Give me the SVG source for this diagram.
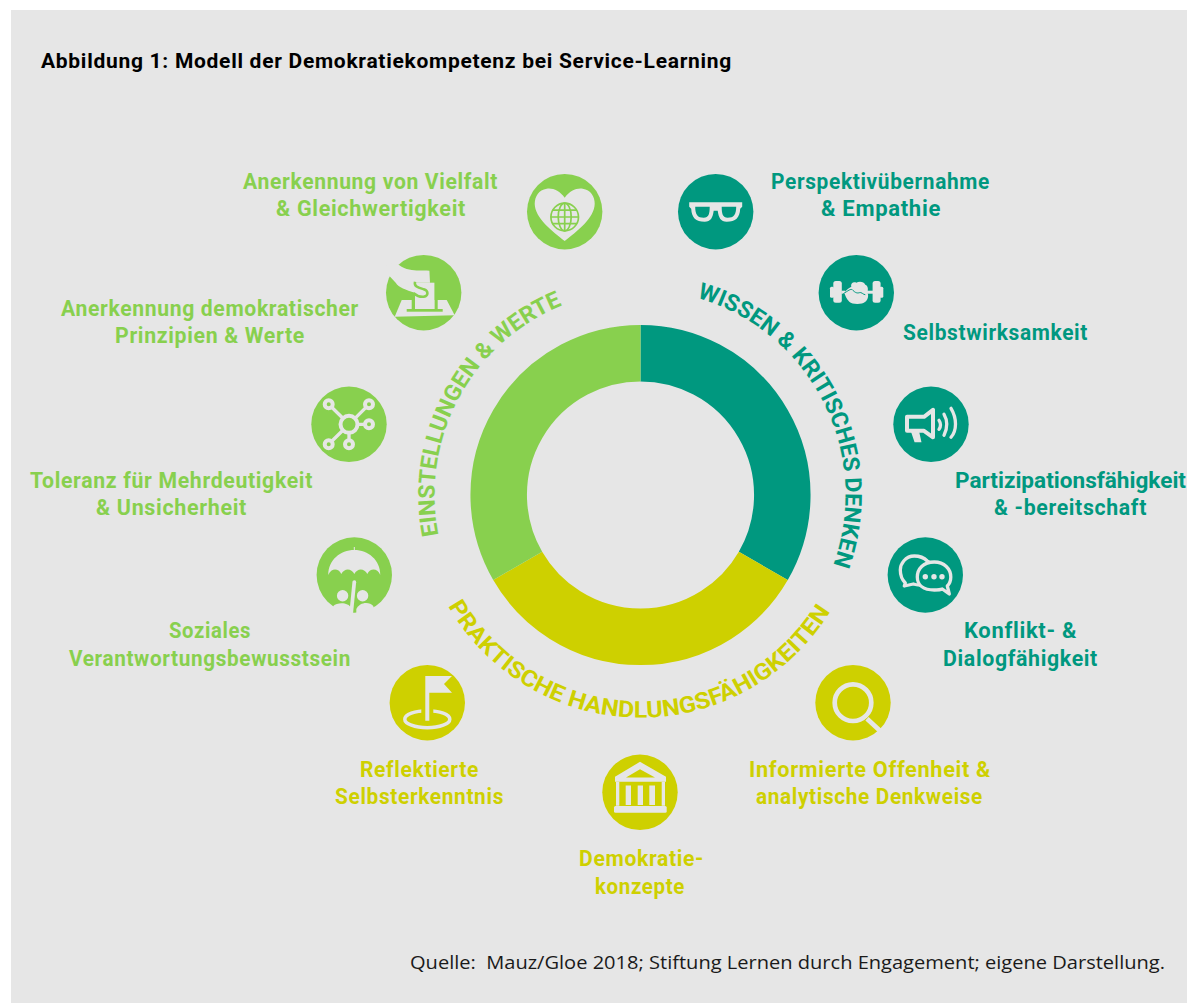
<svg xmlns="http://www.w3.org/2000/svg" xmlns:xlink="http://www.w3.org/1999/xlink" width="1197" height="1003" viewBox="0 0 1197 1003">
<style>
text{font-family:Roboto,"Liberation Sans",sans-serif;font-weight:700}
.lb{font-size:22.5px;letter-spacing:.7px}
.t{fill:#00987f}.g{fill:#88d04e}.y{fill:#ced000}
.bg{fill:#e6e6e6}
.arc{font-size:23px}
.ln{fill:none;stroke:#e6e6e6}
</style>
<defs>
<path id="arcW" d="M696.9,297.9 A205,205 0 0 1 818,597.5"/>
<path id="arcE" d="M438.5,535.1 A205,205 0 0 1 585,297.5"/>
<path id="arcP" d="M448.2,606 A222,222 0 0 0 850,570"/>
</defs>
<rect width="1197" height="1003" fill="#fff"/>
<rect x="11" y="10" width="1176" height="993" fill="#e6e6e6"/>
<text x="41" y="68" font-size="20.5" letter-spacing=".7" textLength="691" lengthAdjust="spacingAndGlyphs" fill="#000">Abbildung 1: Modell der Demokratiekompetenz bei Service-Learning</text>
<g id="ring" fill="none" stroke-width="56.5">
<path d="M640.5,353.2 A141.8,141.8 0 0 1 763.3,565.9" stroke="#00987f"/>
<path d="M763.3,565.9 A141.8,141.8 0 0 1 517.7,565.9" stroke="#ced000"/>
<path d="M517.7,565.9 A141.8,141.8 0 0 1 640.5,353.2" stroke="#88d04e"/>
</g>
<g id="arc-labels" class="arc">
<text class="t"><textPath xlink:href="#arcW" href="#arcW" textLength="336" lengthAdjust="spacingAndGlyphs">WISSEN &amp; KRITISCHES DENKEN</textPath></text>
<text class="g"><textPath xlink:href="#arcE" href="#arcE" textLength="283" lengthAdjust="spacingAndGlyphs">EINSTELLUNGEN &amp; WERTE</textPath></text>
<text class="y"><textPath xlink:href="#arcP" href="#arcP" textLength="460" lengthAdjust="spacingAndGlyphs">PRAKTISCHE HANDLUNGSFÄHIGKEITEN</textPath></text>
</g>
<g id="n-vielfalt">
<circle class="g" cx="564.7" cy="211.7" r="37.7"/>
<g transform="translate(564.7,211.7)"><path class="bg" d="M0,-14 C-5,-21 -12,-24 -18,-23 C-26,-22 -30,-15 -30,-8 C-30,6 -12,20 0,29.3 C12,20 30,6 30,-8 C30,-15 26,-22 18,-23 C12,-24 5,-21 0,-14Z"/>
<g fill="none" stroke="#88d04e" stroke-width="1.7"><circle cx="0" cy="5.3" r="13.8"/><ellipse cx="0" cy="5.3" rx="6.5" ry="13.8"/><path d="M0,-8.5V19M-13.8,5.3H13.8M-12,-1.5H12M-12,12H12"/></g></g>
<text class="lb g" x="243" y="189" textLength="255" lengthAdjust="spacingAndGlyphs">Anerkennung von Vielfalt</text>
<text class="lb g" x="276" y="216" textLength="190" lengthAdjust="spacingAndGlyphs">&amp; Gleichwertigkeit</text>
</g>
<g id="n-prinzipien">
<circle class="g" cx="423.7" cy="292.7" r="37.7"/>
<g transform="translate(423.7,292.7)">
<path class="bg" d="M-24.7,-27.7 C-14,-20 -4,-23 5.7,-22 L6.3,-10 L-8.7,-10 L-8.7,0 C-18,-3 -25,-5 -28,-10 L-34.3,-16.7 L-38,-30Z"/>
<path class="bg" d="M-22,7.3 H23 L31,22.5 L-29,24Z"/>
<rect class="g" x="-17" y="16.3" width="36" height="2.7"/>
<path class="g" d="M-12,3H-8.7V16.3H-12ZM10.7,7.3H14V16.3H10.7Z"/>
<rect class="bg" x="-8.7" y="-10" width="19.4" height="26.3"/>
<path d="M-8.7,-11 C-10,-6 -5,-5 0,-3.5 C5,-2 5,3 0,4 C-4,4.5 -7,3 -10,0.5" fill="none" stroke="#88d04e" stroke-width="2.5"/>
</g>
<text class="lb g" x="61" y="316" textLength="298" lengthAdjust="spacingAndGlyphs">Anerkennung demokratischer</text>
<text class="lb g" x="115" y="343" textLength="190" lengthAdjust="spacingAndGlyphs">Prinzipien &amp; Werte</text>
</g>
<g id="n-toleranz">
<circle class="g" cx="349" cy="424.3" r="37.7"/>
<g transform="translate(349,424.3)">
<path class="ln" stroke-width="3.3" d="M0,0L-20.3,-20M0,0L20,-20M0,0H20M0,0L-20.3,20M0,0V20"/>
<circle cx="0" cy="0" r="8.5" fill="#88d04e" stroke="#e6e6e6" stroke-width="4"/>
<g fill="#88d04e" stroke="#e6e6e6" stroke-width="4"><circle cx="-20.3" cy="-20" r="4"/><circle cx="20" cy="-20" r="4"/><circle cx="20" cy="0" r="4"/><circle cx="-20.3" cy="20" r="4"/><circle cx="0" cy="20" r="4"/></g>
</g>
<text class="lb g" x="30" y="488" textLength="283" lengthAdjust="spacingAndGlyphs">Toleranz für Mehrdeutigkeit</text>
<text class="lb g" x="96" y="515" textLength="151" lengthAdjust="spacingAndGlyphs">&amp; Unsicherheit</text>
</g>
<g id="n-sozial">
<circle class="g" cx="354.3" cy="575" r="37.7"/>
<g transform="translate(354.3,575)">
<path class="bg" d="M-26,0 C-26,-15 -14,-25 0,-25 C14,-25 26,-15 26,0 C23,-7 16,-7 13,-1 C10,-7 3,-7 0,-1 C-3,-7 -10,-7 -13,-1 C-16,-7 -23,-7 -26,0Z"/>
<rect class="bg" x="-.5" y="-28" width="1" height="4"/>
<circle class="bg" cx="-11.7" cy="20.7" r="5.7"/><circle class="bg" cx="8.3" cy="20.7" r="5.7"/>
<path class="bg" d="M-21,31 C-17,27 -6,27 -3,33 L-3,40 H-21Z"/>
<path class="bg" d="M2,34 C5,27 15,26 19,31 L20,40 H2Z"/>
<path d="M0,7 L-3,37" stroke="#e6e6e6" stroke-width="3.7" stroke-linecap="round" fill="none"/>
</g>
<text class="lb g" x="169" y="638" textLength="82" lengthAdjust="spacingAndGlyphs">Soziales</text>
<text class="lb g" x="69" y="666" textLength="282" lengthAdjust="spacingAndGlyphs">Verantwortungsbewusstsein</text>
</g>
<g id="n-selbsterkenntnis">
<circle class="y" cx="427.3" cy="702.7" r="37.7"/>
<g transform="translate(427.3,702.7)">
<ellipse cx="0" cy="16.5" rx="22.5" ry="8.5" fill="none" stroke="#e6e6e6" stroke-width="3.5"/>
<rect class="y" x="-6" y="0" width="12" height="14"/>
<path class="bg" d="M-2,18 V-26.7 H24.7 L16.7,-18.7 L24.7,-10 H2 V18Z"/>
</g>
<text class="lb y" x="360" y="777" textLength="119" lengthAdjust="spacingAndGlyphs">Reflektierte</text>
<text class="lb y" x="335" y="804" textLength="169" lengthAdjust="spacingAndGlyphs">Selbsterkenntnis</text>
</g>
<g id="n-konzepte">
<circle class="y" cx="640" cy="792.3" r="37.7"/>
<g transform="translate(640,792.3)">
<path class="bg" fill-rule="evenodd" d="M-25,-15.5 L0,-30.5 L26,-15.5 V-10.5 H-25Z M-14,-14.7 H15 L0,-23Z"/>
<path class="bg" d="M-14.3,-6.7h5.3v19.4h-5.3zM-2.3,-6.7h5.3v19.4h-5.3zM9.3,-6.7h5.7v19.4h-5.7zM-24,-10.5h3.3v24h-3.3zM21.7,-10.5h3.3v24h-3.3z"/>
<rect class="bg" x="-26" y="13.7" width="52.7" height="6.7" rx="1.5"/>
</g>
<text class="lb y" x="579" y="866" textLength="125" lengthAdjust="spacingAndGlyphs">Demokratie-</text>
<text class="lb y" x="595" y="894" textLength="90" lengthAdjust="spacingAndGlyphs">konzepte</text>
</g>
<g id="n-offenheit">
<circle class="y" cx="853" cy="702.7" r="37.7"/>
<g transform="translate(853,702.7)" fill="none" stroke="#e6e6e6">
<circle cx="0" cy="0" r="18.3" stroke-width="4.7"/>
<path d="M14,16 L27,28" stroke-width="4.7"/>
</g>
<text class="lb y" x="749" y="777" textLength="242" lengthAdjust="spacingAndGlyphs">Informierte Offenheit &amp;</text>
<text class="lb y" x="756" y="804" textLength="227" lengthAdjust="spacingAndGlyphs">analytische Denkweise</text>
</g>
<g id="n-konflikt">
<circle class="t" cx="925.3" cy="575" r="37.7"/>
<g transform="translate(925.3,575)" stroke="#e6e6e6" stroke-width="3.3" stroke-linejoin="round">
<path fill="#00987f" d="M-11,-19 C-20,-19 -25,-11 -25,-5 C-25,1 -23,5 -20,8 L-21,11 L-12,9 C-6,11 0,10 6,8 C6,0 8,-12 2,-14 C-1,-17 -5,-19 -11,-19Z"/>
<path fill="#00987f" d="M9,-13 C-2,-13 -8,-6 -8,2 C-8,10 -2,15 9,15 C12,15 15,15 17,14 L24,19 L22,11 C25,8 25.5,5 25.5,2 C25.5,-6 19,-13 9,-13Z"/>
<g class="bg" stroke="none"><circle cx="0" cy="1.7" r="2.7"/><circle cx="8.7" cy="1.7" r="2.7"/><circle cx="16.7" cy="1.7" r="2.7"/></g>
</g>
<text class="lb t" x="964" y="638" textLength="113" lengthAdjust="spacingAndGlyphs">Konflikt- &amp;</text>
<text class="lb t" x="943" y="666" textLength="155" lengthAdjust="spacingAndGlyphs">Dialogfähigkeit</text>
</g>
<g id="n-partizipation">
<circle class="t" cx="931" cy="424.3" r="37.7"/>
<g transform="translate(931,424.3)">
<path fill="none" stroke="#e6e6e6" stroke-width="4" stroke-linejoin="round" d="M-24,-7.5 H-7 L2,-14.5 V13 L-7,6.5 H-24Z"/>
<path fill="none" stroke="#e6e6e6" stroke-width="4" stroke-linecap="round" d="M-18,7 L-15,16 H-12 L-14,7"/>
<path fill="none" stroke="#e6e6e6" stroke-width="3.3" stroke-linecap="round" d="M8,-4 C10,-1 10,2 8,5M13,-10 C17,-3 17,3 13,11M20,-16 C26,-6 26,6 20,13"/>
</g>
<text class="lb t" x="955" y="488" textLength="231" lengthAdjust="spacingAndGlyphs" style="letter-spacing:0">Partizipationsfähigkeit</text>
<text class="lb t" x="994" y="515" textLength="153" lengthAdjust="spacingAndGlyphs">&amp; -bereitschaft</text>
</g>
<g id="n-selbstwirksamkeit">
<circle class="t" cx="856.3" cy="292.7" r="37.7"/>
<g transform="translate(856.3,292.7)">
<g class="bg"><rect x="-23" y="-11.7" width="8.5" height="21.7" rx="2.5"/><rect x="-26.3" y="-6" width="4" height="11" rx="1.5"/><rect x="16.3" y="-11.7" width="8" height="21.7" rx="2.5"/><rect x="23" y="-6" width="4" height="11" rx="1.5"/><rect x="-15" y="-2" width="4" height="3"/><rect x="10" y="-2" width="7" height="3"/>
<path d="M-12,0 C-10,-3 -7,-5 -5,-6 C-6,-10 -2,-11 0,-10 C3,-12 8,-11 9,-8 C12,-7 12,-3 11,0 C13,3 11,8 9,9 C6,12 -4,12 -7,9 C-10,6 -11,3 -12,0Z"/></g>
<path fill="none" stroke="#00987f" stroke-width="1" d="M-13,1 C-8,-2 -6,-4 -4,-3 C-2,-1 0,1 3,0 C5,-1 7,2 9,2"/>
</g>
<text class="lb t" x="903" y="340" textLength="185" lengthAdjust="spacingAndGlyphs">Selbstwirksamkeit</text>
</g>
<g id="n-perspektive">
<circle class="t" cx="715.7" cy="211.7" r="37.7"/>
<g transform="translate(715.7,211.7)">
<path class="bg" fill-rule="evenodd" d="M-26.5,-9.5 H26.5 V-5 L24.5,-3 C24,6 20,10 11,10 C5,10 3,6 2,-1 H-2 C-3,6 -5,10 -11,10 C-20,10 -24,6 -24.5,-3 L-26.5,-5Z M-20.5,-5 H-6 C-6,2 -7,6 -12,6 C-18,6 -20.5,3 -20.5,-5Z M6,-5 H20.5 C20.5,3 18,6 12,6 C7,6 6,2 6,-5Z"/>
</g>
<text class="lb t" x="771" y="189" textLength="219" lengthAdjust="spacingAndGlyphs">Perspektivübernahme</text>
<text class="lb t" x="821" y="216" textLength="120" lengthAdjust="spacingAndGlyphs">&amp; Empathie</text>
</g>
<text x="410" y="969" font-size="18" textLength="755" lengthAdjust="spacingAndGlyphs" style="font-weight:400;font-family:'Open Sans',sans-serif;white-space:pre" fill="#1a1a1a">Quelle:  Mauz/Gloe 2018; Stiftung Lernen durch Engagement; eigene Darstellung.</text>
</svg>
